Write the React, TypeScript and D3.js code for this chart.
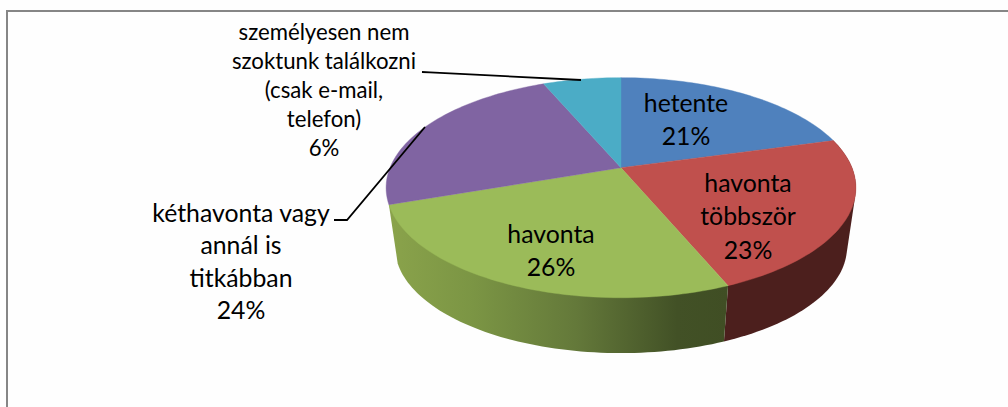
import React from "react";
import * as d3 from "d3";

const categories = ["hetente", "havonta többször", "havonta", "kéthavonta vagy annál is titkábban", "személyesen nem szoktunk találkozni (csak e-mail, telefon)"];
const values = [20.7, 23.0, 26.0, 23.9, 6.4];
const topColors = ["#4F81BD", "#C0504D", "#9BBB59", "#8064A2", "#4BACC6"];
const wallColors: Record<number, string> = { 1: "#4C1F1D", 2: "url(#greenWall)" };
const greenStops: [number, string][] = [
  [0, "#8AA34B"], [0.25, "#7B9544"], [0.55, "#64793A"], [0.85, "#425126"], [1, "#404E24"],
];
const labelLines = [
  ["hetente"],
  ["havonta", "többször"],
  ["havonta"],
  ["kéthavonta vagy", "annál is", "titkábban"],
  ["személyesen nem", "szoktunk találkozni", "(csak e-mail,", "telefon)"],
];
const labelAnchors: [number, number, number, number][] = [
  [686, 101.5, 33.5, 24.8],
  [748, 181.5, 33.5, 24.8],
  [551, 232.5, 33.5, 24.8],
  [241, 211.5, 32.5, 24.8],
  [324, 30.5, 29.2, 22.2],
];
const leaders: [number, number][][] = [
  [[334, 220], [347, 220], [425, 127]],
  [[422, 72], [430, 72.3], [581, 80]],
];

const W = 1008, H = 407;
const APEX_X = 621, APEX_Y = 167.7;
const SX = 231, SY = 106.4, K = 0.1818;
const DROP_APEX = 228, DROP_SCALE = 0.962;

function project(angle: number, plane: number): [number, number] {
  const u = Math.sin(angle), v = -Math.cos(angle);
  const d = 1 - K * v;
  const x = (SX * u) / d, y = (SY * v) / d;
  return plane === 0
    ? [APEX_X + x, APEX_Y + y]
    : [APEX_X + x * DROP_SCALE, DROP_APEX + y * DROP_SCALE];
}

const pie = d3.pie<number>().sort(null).value((d) => d);
const line = d3.line<[number, number]>();

function rim(a0: number, a1: number, plane: number): [number, number][] {
  const n = Math.max(8, Math.ceil((a1 - a0) * 40));
  return d3.range(n + 1).map((i) => project(a0 + ((a1 - a0) * i) / n, plane));
}

function wallPath(a0: number, a1: number): string {
  const hull = d3.polygonHull([...rim(a0, a1, 0), ...rim(a0, a1, 1)]) as [number, number][];
  return line(hull) + "Z";
}

export default function App() {
  const arcs = pie(values);
  const greenArc = arcs[2];
  const gx0 = project(greenArc.endAngle, 0)[0];
  const gx1 = project(greenArc.startAngle, 0)[0];
  return (
    <svg
      width={W}
      height={H}
      viewBox={`0 0 ${W} ${H}`}
      style={{ position: "absolute", left: 0, top: 0, background: "#fefefe" }}
      fontFamily="Lato, Carlito, sans-serif"
      aria-label={categories.join(", ")}
    >
      <defs>
        <linearGradient id="greenWall" gradientUnits="userSpaceOnUse" x1={gx0} x2={gx1} y1={0} y2={0}>
          {greenStops.map(([o, c]) => <stop key={o} offset={o} stopColor={c} />)}
        </linearGradient>
      </defs>
      <path d={`M7 ${H}V11H${W}`} fill="none" stroke="#868686" strokeWidth={2} />
      {[1, 2].map((i) => {
        const a = arcs[i];
        return <path key={i} d={wallPath(a.startAngle, a.endAngle)} fill={wallColors[i]} />;
      })}
      {arcs.map((a, i) => {
        const pts: [number, number][] = [[APEX_X, APEX_Y], ...rim(a.startAngle, a.endAngle, 0)];
        return <path key={i} d={line(pts) + "Z"} fill={topColors[i]} stroke={topColors[i]} strokeWidth={0.4} />;
      })}
      {leaders.map((l, i) => (
        <path key={i} d={line(l) ?? ""} fill="none" stroke="#000" strokeWidth={1.8} />
      ))}
      {labelLines.map((lines, i) => {
        const [x, y, dy, fs] = labelAnchors[i];
        const all = [...lines, `${Math.round(values[i])}%`];
        return (
          <text key={i} x={x} textAnchor="middle" fontSize={fs} fill="#000" dominantBaseline="central">
            {all.map((t, j) => <tspan key={j} x={x} y={y + j * dy}>{t}</tspan>)}
          </text>
        );
      })}
    </svg>
  );
}
